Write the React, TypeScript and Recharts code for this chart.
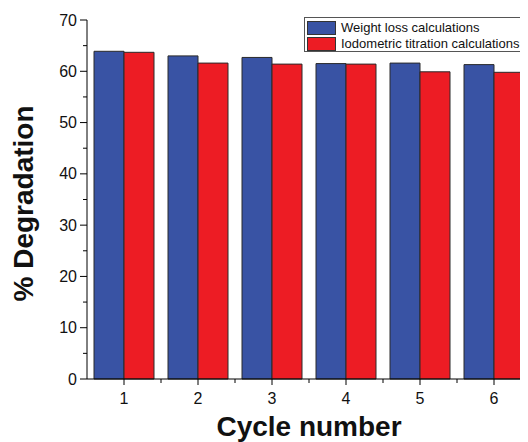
import React from 'react';
import { BarChart, Bar, XAxis, YAxis } from 'recharts';

const cycles = ['1', '2', '3', '4', '5', '6'];
const weightLoss = [63.9, 63.0, 62.7, 61.5, 61.6, 61.3];
const iodometric = [63.7, 61.6, 61.4, 61.4, 59.9, 59.8];
const yTicks = [0, 5, 10, 15, 20, 25, 30, 35, 40, 45, 50, 55, 60, 65, 70];
const seriesNames = ['Weight loss calculations', 'Iodometric titration calculations'];

const BLUE = '#3953A4';
const RED = '#ED1C24';
const FONT = '"Liberation Sans", Arial, sans-serif';

const data = cycles.map((c, i) => ({ cycle: c, wl: weightLoss[i], io: iodometric[i] }));

const YTick = (props: any) => {
  const { x, y, payload } = props;
  const major = payload.value % 10 === 0;
  return (
    <g>
      <line x1={x - (major ? 7 : 4)} x2={x} y1={y} y2={y} stroke="#000" strokeWidth={1} />
      {major && (
        <text x={x - 10} y={y} dy={5.5} textAnchor="end" fontSize={16} fontFamily={FONT} fill="#111">
          {payload.value}
        </text>
      )}
    </g>
  );
};

const XTick = (props: any) => {
  const { x, y, payload } = props;
  return (
    <g>
      <line x1={x} x2={x} y1={y} y2={y + 6} stroke="#000" strokeWidth={1} />
      <line x1={x + 37} x2={x + 37} y1={y} y2={y + 4} stroke="#000" strokeWidth={1} />
      <text x={x} y={y + 25} textAnchor="middle" fontSize={16} fontFamily={FONT} fill="#111">
        {payload.value}
      </text>
    </g>
  );
};

const YTitle = (props: any) => {
  const vb = props.viewBox || {};
  const cx = 33;
  const cy = (vb.y ?? 20) + (vb.height ?? 359) / 2 + 4;
  return (
    <text
      x={cx}
      y={cy}
      transform={`rotate(-90, ${cx}, ${cy})`}
      textAnchor="middle"
      fontSize={28}
      fontWeight="bold"
      fontFamily={FONT}
      fill="#111"
    >
      % Degradation
    </text>
  );
};

const XTitle = (props: any) => {
  const vb = props.viewBox || {};
  const cx = (vb.x ?? 87) + (vb.width ?? 444) / 2;
  return (
    <text x={cx} y={436} textAnchor="middle" fontSize={28} fontWeight="bold" fontFamily={FONT} fill="#111">
      Cycle number
    </text>
  );
};

export default function App() {
  return (
    <div style={{ position: 'relative', margin: '-8px 0 0 -8px', width: 540, height: 442 }}>
      <BarChart
        width={540}
        height={442}
        data={data}
        margin={{ top: 20, right: 9, left: 0, bottom: 0 }}
        barCategoryGap={7}
        barGap={0}
      >
        <XAxis
          dataKey="cycle"
          height={63}
          tickLine={false}
          tickSize={0}
          tickMargin={0}
          tick={<XTick />}
          axisLine={{ stroke: '#000', strokeWidth: 1 }}
          interval={0}
          label={<XTitle />}
        />
        <YAxis
          width={87}
          domain={[0, 70]}
          ticks={yTicks}
          interval={0}
          tickLine={false}
          tickSize={0}
          tickMargin={0}
          tick={<YTick />}
          axisLine={{ stroke: '#000', strokeWidth: 1 }}
          label={<YTitle />}
        />
        <Bar dataKey="wl" name={seriesNames[0]} fill={BLUE} stroke="#2a2a2a" strokeWidth={1} isAnimationActive={false} />
        <Bar dataKey="io" name={seriesNames[1]} fill={RED} stroke="#2a2a2a" strokeWidth={1} isAnimationActive={false} />
      </BarChart>
      <div
        style={{
          position: 'absolute',
          left: 304,
          top: 17,
          width: 223,
          height: 35,
          border: '1px solid #555',
          background: '#fff',
          fontFamily: FONT,
          fontSize: 13,
          color: '#111',
          boxSizing: 'border-box',
        }}
      >
        {seriesNames.map((n, i) => (
          <div key={n} style={{ position: 'absolute', left: 2, top: i === 0 ? 2 : 18, height: 15, display: 'flex', alignItems: 'center' }}>
            <div
              style={{
                width: 29,
                height: 14,
                background: i === 0 ? BLUE : RED,
                border: '1px solid #333',
                boxSizing: 'border-box',
                marginRight: 5,
              }}
            />
            <span style={{ whiteSpace: 'nowrap', lineHeight: '15px' }}>{n}</span>
          </div>
        ))}
      </div>
    </div>
  );
}
